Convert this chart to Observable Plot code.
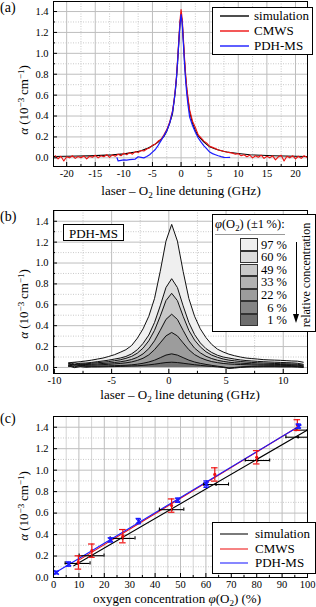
<!DOCTYPE html>
<html><head><meta charset="utf-8">
<script src="https://cdn.jsdelivr.net/npm/d3@7"></script>
<script src="https://cdn.jsdelivr.net/npm/@observablehq/plot@0.6"></script>
<style>
html,body{margin:0;padding:0;background:#fff;}
#root{position:relative;width:316px;height:607px;overflow:hidden;font-family:"Liberation Serif","DejaVu Serif",serif;color:#000;}
#root svg.plotsvg{position:absolute;left:0;}
.t{position:absolute;white-space:nowrap;line-height:1;font-family:"Liberation Serif","DejaVu Serif",serif;}
.c{transform:translate(-50%,-50%);}
.r{transform:translate(-50%,-50%) rotate(-90deg);}
.sub{font-size:0.7em;position:relative;top:0.3em;}
.sup{font-size:0.7em;position:relative;top:-0.45em;}
.box{position:absolute;background:#fff;border:1px solid #000;box-sizing:border-box;}
</style></head><body><div id="root"></div><script>
// ---------- Panel (a): absorption vs detuning ----------
const aSimDetuning = [-22.3,-20,-18,-16,-14,-12,-10,-8,-7,-6,-5,-4,-3,-2.5,-2,-1.5,-1.2,-1,-0.8,-0.6,-0.4,-0.2,0,0.2,0.4,0.6,0.8,1,1.2,1.5,2,2.5,3,4,5,6,7,8,10,12,14,16,18,20,22.1];
const aSimAlpha    = [0.012,0.015,0.017,0.019,0.023,0.028,0.038,0.055,0.068,0.088,0.115,0.15,0.205,0.255,0.33,0.42,0.55,0.64,0.76,0.92,1.1,1.28,1.37,1.30,1.12,0.93,0.77,0.65,0.56,0.44,0.33,0.26,0.21,0.15,0.105,0.085,0.068,0.056,0.042,0.03,0.024,0.02,0.017,0.015,0.012];
const aCmwsDetuning = [-22,-21.5,-21,-20.5,-20,-19.5,-19,-18.5,-18,-17.5,-17,-16.5,-16,-15.5,-15,-14.5,-14,-13.5,-13,-12.5,-12,-11.5,-11,-10.5,-10,-9.5,-9,-8.5,-8,-7.5,-7,-6.5,-6,-5.5,-5,-4.5,-4,-3.5,-3,
  -2.5,-2,-1.5,-1.2,-1,-0.8,-0.6,-0.4,-0.2,0,0.2,0.4,0.6,0.8,1,1.2,1.5,2,2.5,
  3,3.5,4,4.5,5,5.5,6,6.5,7,7.5,8,8.5,9,9.5,10,10.5,11,11.5,12,12.5,13,13.5,14,14.5,15,15.5,16,16.5,17,17.5,18,18.5,19,19.5,20,20.5,21,21.5,22];
const aCmwsAlpha = [0.02,-0.01,0.015,-0.03,0.01,0.0,0.02,-0.005,0.012,0.0,0.018,-0.01,0.015,0.005,0.025,0.0,0.02,0.01,0.03,0.005,0.028,0.015,0.035,0.02,0.045,0.03,0.05,0.035,0.06,0.05,0.07,0.065,0.085,0.095,0.12,0.13,0.16,0.175,0.22,
  0.27,0.34,0.45,0.56,0.66,0.78,0.95,1.13,1.31,1.42,1.33,1.15,0.96,0.80,0.67,0.58,0.46,0.35,0.29,
  0.22,0.19,0.16,0.14,0.11,0.10,0.09,0.075,0.07,0.06,0.055,0.05,0.045,0.035,0.04,0.02,0.03,0.01,0.025,0.0,0.02,0.005,0.025,-0.005,0.015,0.0,0.02,-0.02,0.01,0.025,-0.03,0.015,0.0,0.02,-0.01,0.015,-0.005,0.02,0.005];
const aPdhDetuning = [-11.2,-11,-10.5,-10,-9.5,-9,-8.5,-8,-7.5,-7,-6.5,-6,-5.5,-5,-4.5,-4,-3.5,-3,-2.5,-2,-1.5,-1.2,-1,-0.8,-0.6,-0.4,-0.2,0,0.2,0.4,0.6,0.8,1,1.2,1.5,2,2.5,3,3.5,4,4.5,5,5.5,6,6.5,7,7.5,8,8.5];
const aPdhAlpha    = [0.0,-0.03,-0.025,-0.02,-0.022,-0.018,-0.015,-0.012,0.01,0.005,0.0,0.012,0.03,0.055,0.08,0.12,0.165,0.21,0.26,0.33,0.44,0.55,0.65,0.77,0.93,1.1,1.27,1.37,1.29,1.1,0.9,0.74,0.61,0.51,0.39,0.31,0.245,0.19,0.15,0.115,0.085,0.055,0.04,0.03,0.02,0.012,0.005,0.003,0.005];

// ---------- Panel (b): PDH-MS for several O2 concentrations ----------
const bDetuning = [-8.75,-8.25,-7.75,-7.25,-6.75,-6.25,-5.75,-5.25,-4.75,-4.25,-3.75,-3.25,-2.75,-2.25,-1.75,-1.25,-0.75,-0.25,0.25,0.75,1.25,1.75,2.25,2.75,3.25,3.75,4.25,4.75,5.25,5.75,6.25,6.75,7.25,7.75,8.25,8.75,9.25,9.75,10.25,10.75,11.25,11.75];
const bConcLabels = ["97 %","60 %","49 %","33 %","22 %","6 %","1 %"];
const bFills = ["#efefef","#dcdcdc","#c8c8c8","#b2b2b2","#9c9c9c","#858585","#6e6e6e"];
const b97 = [0.045,0.05,0.055,0.062,0.07,0.08,0.09,0.105,0.122,0.145,0.17,0.21,0.28,0.37,0.49,0.66,0.92,1.21,1.37,1.21,0.92,0.66,0.49,0.37,0.285,0.22,0.175,0.148,0.127,0.112,0.1,0.09,0.085,0.08,0.075,0.072,0.07,0.068,0.065,0.062,0.06,0.05];
const b60 = [0.04,0.025,0.04,0.042,0.048,0.055,0.062,0.07,0.08,0.09,0.105,0.13,0.17,0.23,0.31,0.43,0.59,0.765,0.85,0.765,0.59,0.43,0.315,0.235,0.18,0.143,0.117,0.1,0.09,0.08,0.072,0.066,0.062,0.058,0.055,0.052,0.05,0.048,0.046,0.044,0.04,0.03];
const b49 = [0.02,0.045,0.03,0.035,0.04,0.045,0.05,0.056,0.064,0.073,0.087,0.106,0.137,0.185,0.255,0.355,0.49,0.64,0.71,0.64,0.49,0.355,0.262,0.197,0.15,0.118,0.097,0.081,0.07,0.063,0.057,0.052,0.048,0.045,0.042,0.04,0.038,0.036,0.035,0.033,0.03,0.022];
const b33 = [0.035,0.02,0.03,0.028,0.03,0.034,0.038,0.042,0.047,0.054,0.063,0.076,0.097,0.13,0.18,0.255,0.355,0.46,0.51,0.46,0.355,0.255,0.185,0.14,0.107,0.085,0.069,0.058,0.05,0.045,0.041,0.038,0.035,0.033,0.031,0.03,0.029,0.028,0.027,0.026,0.022,0.015];
const b22 = [0.01,0.03,0.015,0.02,0.022,0.024,0.027,0.03,0.034,0.038,0.044,0.053,0.067,0.088,0.12,0.17,0.235,0.302,0.335,0.302,0.235,0.17,0.123,0.093,0.072,0.056,0.046,0.038,0.033,0.03,0.028,0.026,0.024,0.023,0.022,0.021,0.02,0.02,0.019,0.018,0.015,0.01];
const b6  = [0.025,0.005,0.02,0.01,0.012,0.012,0.014,0.015,0.017,0.019,0.021,0.025,0.031,0.04,0.052,0.069,0.093,0.118,0.13,0.118,0.094,0.07,0.052,0.039,0.029,0.02,0.012,0.005,-0.005,0.0,0.005,0.008,0.01,0.011,0.012,0.012,0.012,0.011,0.011,0.01,0.008,0.004];
const b1  = [0.015,-0.002,0.008,0.002,0.005,0.005,0.006,0.007,0.008,0.01,0.012,0.014,0.016,0.02,0.025,0.031,0.039,0.047,0.05,0.047,0.04,0.033,0.026,0.02,0.014,0.01,0.005,0.0,-0.01,-0.006,0.0,0.003,0.005,0.005,0.006,0.006,0.006,0.005,0.005,0.005,0.003,0.0];

// ---------- Panel (c): alpha vs oxygen concentration ----------
const cSimPhi    = [9.5,15,27.2,46.5,64,80.3,96.3,100];
const cSimAlpha  = [0.131,0.203,0.364,0.632,0.866,1.09,1.307,1.373];
const cSimPhiErr = [4.9,4.9,4.9,4.8,4.9,4.8,4.8,4.5];
const cSimLinePhi = [8,100], cSimLineAlpha = [0.11,1.375];
const cCmwsPhi   = [9.8,15.1,27.3,46.5,63.5,80,96];
const cCmwsAlpha = [0.14,0.25,0.385,0.67,0.96,1.12,1.42];
const cCmwsErr   = [0.062,0.062,0.062,0.062,0.062,0.062,0.05];
const cCmwsLinePhi = [9.5,96], cCmwsLineAlpha = [0.155,1.40];
const cPdhPhi    = [1.2,6,22.5,33.5,49,60.2,96.5];
const cPdhAlpha  = [0.046,0.125,0.35,0.525,0.72,0.87,1.41];
const cPdhErr    = [0.012,0.02,0.02,0.025,0.02,0.03,0.02];
const cPdhLinePhi = [0,97.5], cPdhLineAlpha = [0.035,1.42];

const seriesNames = ["simulation","CMWS","PDH-MS"];
const seriesColors = ["#000000","#ee1111","#1a1aff"];

// ---------- helpers ----------
const FONT = '"Liberation Serif","DejaVu Serif",serif';
const root = document.getElementById("root");
const zip = (xs, ys) => xs.map((x, i) => ({x, y: ys[i]}));
const fmt1 = d3.format(".1f");

function panel({top, height, mt, mb, xDomain, yDomain, xMajor, xMinor, yMajor, yMinor, xMinorSolid, marks}) {
  const minorDot = {stroke: "#c4c4c4", strokeOpacity: 1, strokeWidth: 0.9, strokeDasharray: "1,1.5"};
  const svg = Plot.plot({
    width: 316, height, marginTop: mt, marginBottom: mb, marginLeft: 53, marginRight: 9,
    style: {fontFamily: FONT, fontSize: "10.5px", background: "transparent", color: "#000", overflow: "visible"},
    x: {domain: xDomain, axis: null},
    y: {domain: yDomain, axis: null},
    marks: [
      Plot.gridX(xMinor, xMinorSolid ? {stroke: "#cfcfcf", strokeOpacity: 1, strokeWidth: 0.9} : minorDot),
      Plot.gridY(yMinor, minorDot),
      Plot.gridX(xMajor, {stroke: "#bebebe", strokeOpacity: 1, strokeWidth: 1}),
      Plot.gridY(yMajor, {stroke: "#bebebe", strokeOpacity: 1, strokeWidth: 1}),
      ...marks,
      Plot.axisX(xMajor, {tickSize: -4, fill: "none", label: null}),
      Plot.axisX(xMinor, {tickSize: -2, fill: "none", label: null}),
      Plot.axisY(yMajor, {tickSize: -4, fill: "none", label: null}),
      Plot.axisY(yMinor, {tickSize: -2, fill: "none", label: null}),
      Plot.axisX(xMajor, {tickSize: 0, tickPadding: 3, label: null, tickFormat: d => String(d), fontFamily: FONT, fontSize: 10.5}),
      Plot.axisY(yMajor, {tickSize: 0, tickPadding: 5, label: null, tickFormat: fmt1, fontFamily: FONT, fontSize: 10.5}),
      Plot.frame({stroke: "#000", strokeWidth: 1})
    ]
  });
  svg.classList.add("plotsvg");
  svg.style.top = top + "px";
  svg.setAttribute("font-family", FONT);
  root.appendChild(svg);
}

function text(html, x, y, cls, size) {
  const d = document.createElement("div");
  d.className = "t " + (cls || "");
  d.style.left = x + "px"; d.style.top = y + "px";
  d.style.fontSize = (size || 13) + "px";
  d.innerHTML = html;
  root.appendChild(d);
  return d;
}
function box(x, y, w, h) {
  const d = document.createElement("div");
  d.className = "box";
  Object.assign(d.style, {left: x + "px", top: y + "px", width: w + "px", height: h + "px"});
  root.appendChild(d);
  return d;
}
function legendLine(x, y, w, color, opacity) {
  const ns = "http://www.w3.org/2000/svg";
  const s = document.createElementNS(ns, "svg");
  s.setAttribute("width", w); s.setAttribute("height", 4);
  Object.assign(s.style, {position: "absolute", left: x + "px", top: (y - 2) + "px"});
  const l = document.createElementNS(ns, "line");
  l.setAttribute("x1", 0); l.setAttribute("x2", w); l.setAttribute("y1", 2); l.setAttribute("y2", 2);
  l.setAttribute("stroke", color); l.setAttribute("stroke-width", 1.4); l.setAttribute("stroke-opacity", opacity || 1);
  s.appendChild(l);
  root.appendChild(s);
}

const alphaLabel = '<i>α</i> (10<span class="sup">−3</span>\u2009cm<span class="sup">−1</span>)';
const detLabel = 'laser – O<span class="sub">2</span> line detuning (GHz)';

// ---------- draw (a) ----------
panel({
  top: 0, height: 200, mt: 1, mb: 34,
  xDomain: [-22.3, 22.1], yDomain: [-0.083, 1.496],
  xMajor: [-20,-15,-10,-5,0,5,10,15,20], xMinor: [-17.5,-12.5,-7.5,-2.5,2.5,7.5,12.5,17.5],
  yMajor: [0,0.2,0.4,0.6,0.8,1.0,1.2,1.4], yMinor: [0.1,0.3,0.5,0.7,0.9,1.1,1.3],
  marks: [
    Plot.line(zip(aSimDetuning, aSimAlpha), {x: "x", y: "y", stroke: seriesColors[0], strokeWidth: 1.1, clip: true}),
    Plot.line(zip(aCmwsDetuning, aCmwsAlpha), {x: "x", y: "y", stroke: seriesColors[1], strokeWidth: 1.1, clip: true}),
    Plot.line(zip(aPdhDetuning, aPdhAlpha), {x: "x", y: "y", stroke: seriesColors[2], strokeWidth: 1.2, clip: true})
  ]
});

// ---------- draw (b) ----------
const bSeries = [b97, b60, b49, b33, b22, b6, b1];
const bMarks = [];
bSeries.forEach((s, i) => bMarks.push(Plot.areaY(zip(bDetuning, s), {x: "x", y: "y", fill: bFills[i], fillOpacity: 1, clip: true})));
bSeries.forEach(s => bMarks.push(Plot.line(zip(bDetuning, s), {x: "x", y: "y", stroke: "#111", strokeWidth: 1, clip: true})));
panel({
  top: 200, height: 200, mt: 10, mb: 27,
  xDomain: [-10.08, 12.12], yDomain: [-0.058, 1.503],
  xMajor: [-10,-5,0,5,10], xMinor: [-7.5,-2.5,2.5,7.5],
  yMajor: [0,0.2,0.4,0.6,0.8,1.0,1.2,1.4], yMinor: [0.1,0.3,0.5,0.7,0.9,1.1,1.3],
  marks: bMarks
});

// ---------- draw (c) ----------
const cSim = cSimPhi.map((p, i) => ({p, a: cSimAlpha[i], lo: p - cSimPhiErr[i], hi: p + cSimPhiErr[i]}));
const cCm = cCmwsPhi.map((p, i) => ({p, a: cCmwsAlpha[i], lo: cCmwsAlpha[i] - cCmwsErr[i], hi: cCmwsAlpha[i] + cCmwsErr[i]}));
const cPdh = cPdhPhi.map((p, i) => ({p, a: cPdhAlpha[i], lo: cPdhAlpha[i] - cPdhErr[i], hi: cPdhAlpha[i] + cPdhErr[i]}));
function vbars(data, color, cap, w) {
  return [
    Plot.ruleX(data, {x: "p", y1: "lo", y2: "hi", stroke: color, strokeWidth: w, clip: true}),
    Plot.ruleY(data, {y: "lo", x1: d => d.p - cap, x2: d => d.p + cap, stroke: color, strokeWidth: w, clip: true}),
    Plot.ruleY(data, {y: "hi", x1: d => d.p - cap, x2: d => d.p + cap, stroke: color, strokeWidth: w, clip: true})
  ];
}
panel({
  top: 400, height: 207, mt: 16, mb: 30,
  xDomain: [0, 100], yDomain: [0, 1.5],
  xMajor: [0,10,20,30,40,50,60,70,80,90,100], xMinor: [5,15,25,35,45,55,65,75,85,95], xMinorSolid: true,
  yMajor: [0,0.2,0.4,0.6,0.8,1.0,1.2,1.4], yMinor: [0.1,0.3,0.5,0.7,0.9,1.1,1.3],
  marks: [
    Plot.line(zip(cSimLinePhi, cSimLineAlpha), {x: "x", y: "y", stroke: seriesColors[0], strokeWidth: 1.1}),
    Plot.line(zip(cCmwsLinePhi, cCmwsLineAlpha), {x: "x", y: "y", stroke: seriesColors[1], strokeWidth: 1.1}),
    Plot.line(zip(cPdhLinePhi, cPdhLineAlpha), {x: "x", y: "y", stroke: seriesColors[2], strokeWidth: 1.1}),
    Plot.ruleY(cSim, {y: "a", x1: "lo", x2: "hi", stroke: "#000", strokeWidth: 1.1, clip: true}),
    Plot.ruleX(cSim, {x: "lo", y1: d => d.a - 0.015, y2: d => d.a + 0.015, stroke: "#000", strokeWidth: 1.1, clip: true}),
    Plot.ruleX(cSim, {x: "hi", y1: d => d.a - 0.015, y2: d => d.a + 0.015, stroke: "#000", strokeWidth: 1.1, clip: true}),
    Plot.dot(cSim, {x: "p", y: "a", r: 1.2, fill: "#000", clip: true}),
    ...vbars(cCm, seriesColors[1], 1.3, 1.2),
    Plot.dot(cCm, {x: "p", y: "a", r: 1.6, fill: seriesColors[1]}),
    ...vbars(cPdh, seriesColors[2], 1.0, 1.3),
    Plot.dot(cPdh, {x: "p", y: "a", r: 2.2, symbol: "times", stroke: seriesColors[2], strokeWidth: 1.4})
  ]
});

// ---------- overlays: panel labels, axis titles ----------
text("(a)", 0, 1, "", 14);
text("(b)", 0, 210, "", 14);
text("(c)", 0, 412, "", 14);
text(detLabel, 181, 191, "c", 13);
text(detLabel, 180, 395, "c", 13);
text('oxygen concentration <i>φ</i>(O<span class="sub">2</span>) (%)', 177, 599, "c", 13);
text(alphaLabel, 24, 100, "r", 13);
text(alphaLabel, 24, 304, "r", 13);
text(alphaLabel, 24, 506, "r", 13);

// legend (a)
box(212, 7, 101, 48);
[16, 31, 45.5].forEach((y, i) => {
  legendLine(220, y, 29, seriesColors[i]);
  text(seriesNames[i], 254, y, "", 13).style.transform = "translateY(-55%)";
});

// legend (c)
box(212, 522, 104, 52);
[534, 548.7, 563.3].forEach((y, i) => {
  legendLine(220, y, 28, seriesColors[i], 0.75);
  text(seriesNames[i], 255, y, "", 13).style.transform = "translateY(-55%)";
});

// panel (b) tag
box(63, 224, 61, 17);
text("PDH-MS", 93.5, 232.5, "c", 13);

// legend (b)
box(212, 214, 104, 118);
const hdr = text('<i>φ</i>(O<span class="sub">2</span>) (±1\u2009%):', 215, 218, "", 12.5);
hdr.style.borderBottom = "1.6px solid #999"; hdr.style.paddingBottom = "3px";
const rowTop = 238.3, rowH = 12.6;
bConcLabels.forEach((lab, i) => {
  const s = document.createElement("div");
  Object.assign(s.style, {position: "absolute", left: "240px", top: (rowTop + i * rowH) + "px", width: "18px", height: rowH + "px",
    background: bFills[i], border: "1px solid #333", boxSizing: "border-box"});
  root.appendChild(s);
  const t = text(lab, 287, rowTop + i * rowH + rowH / 2, "", 12.5);
  t.style.transform = "translate(-100%,-50%)";
});
// arrow
const arr = document.createElement("div");
Object.assign(arr.style, {position: "absolute", left: "295.5px", top: "242px", width: "0", height: "74px", borderLeft: "1.3px solid #000"});
root.appendChild(arr);
const head = document.createElement("div");
Object.assign(head.style, {position: "absolute", left: "293px", top: "314px", width: "0", height: "0",
  borderLeft: "3px solid transparent", borderRight: "3px solid transparent", borderTop: "9px solid #000"});
root.appendChild(head);
text("relative concentration", 306, 275, "r", 12);
</script></body></html>
